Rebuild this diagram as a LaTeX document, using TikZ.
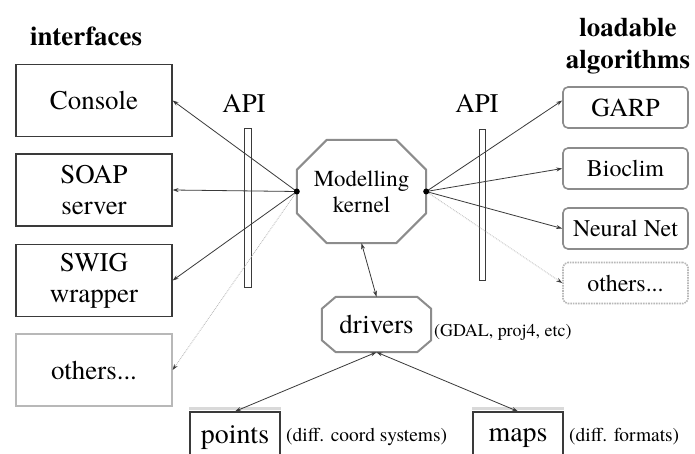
\documentclass[tikz,border=0pt]{standalone}
\usepackage{fontspec}
\setmainfont{texgyretermes}[Extension=.otf, UprightFont=*-regular, BoldFont=*-bold, ItalicFont=*-italic, BoldItalicFont=*-bolditalic]
\usetikzlibrary{arrows.meta,calc}
\definecolor{edge}{HTML}{3A3A3A}
\definecolor{softgray}{HTML}{8C8C8C}
\definecolor{palegray}{HTML}{B8B8B8}
\newcommand{\fsz}[1]{\fontsize{#1}{\dimexpr #1pt*115/100\relax}\selectfont}
\tikzset{
  title/.style={font=\bfseries\fsz{27}, inner sep=0pt},
  ifbox/.style={draw=edge, line width=1.2bp, minimum width=156bp, minimum height=72bp, inner sep=0pt, align=center, font=\fsz{27}},
  ifboxlight/.style={ifbox, draw=palegray},
  algbox/.style={draw=softgray, line width=1.6bp, rounded corners=5bp, minimum width=125bp, minimum height=41bp, inner sep=0pt, font=\fsz{24}},
  algboxlight/.style={algbox, draw=palegray, densely dotted},
  apilabel/.style={font=\fsz{27}, inner sep=0pt},
  apibar/.style={draw=edge, line width=1bp, fill=white, inner sep=0pt},
  octatext/.style={inner sep=0pt, align=center},
  octline/.style={draw=softgray, line width=2bp, line join=round},
  datbox/.style={draw=edge, line width=1.2bp, minimum width=90bp, minimum height=52bp, inner sep=0pt, font=\fsz{28}},
  note/.style={inner sep=0pt, font=\fsz{19.5}},
  conn/.style={draw=edge, line width=0.8bp, -{Stealth[length=6bp,width=4bp]}},
  connlight/.style={draw=palegray, line width=0.8bp, densely dotted, -{Stealth[length=6bp,width=4bp,color=edge]}},
  conntwo/.style={draw=edge, line width=0.8bp, {Stealth[length=6bp,width=4bp]}-{Stealth[length=6bp,width=4bp]}},
  joint/.style={fill=black},
  shadowline/.style={draw=gray!30, line width=3bp}
}
\begin{document}
\begin{tikzpicture}[x=1bp,y=-1bp]
\useasboundingbox (0,0) rectangle (695,454);
\fill[white] (0,0) rectangle (695,454);

% titles
\node[title, anchor=base] (interfaces) at (86,45.5) {interfaces};
\node[title, anchor=base] (loadable) at (628,36.6) {loadable};
\node[title, anchor=base] (algorithms) at (628,68.3) {algorithms};

% interfaces
\node[ifbox] (console) at (94,100.5) {Console};
\node[ifbox] (soap) at (94,190) {SOAP\\server};
\node[ifbox] (swig) at (94,280.5) {SWIG\\wrapper};
\node[ifboxlight] (othersL) at (94,370) {others...};

% algorithms
\node[algbox, font=\fsz{26}] (garp) at (625.5,107.5) {GARP};
\node[algbox] (bioclim) at (625.5,168.5) {Bioclim};
\node[algbox] (neural) at (625.5,228.5) {Neural Net};
\node[algboxlight] (othersR) at (625.5,283) {others...};

% API
\node[apilabel] (apiL) at (244,103) {API};
\node[apilabel] (apiR) at (477,103) {API};
\node[apibar, minimum width=7bp, minimum height=158bp] (barL) at (247.5,208) {};
\node[apibar, minimum width=6bp, minimum height=150bp] (barR) at (482,205) {};

% kernel
\node[octatext, minimum width=129bp, minimum height=103bp, font=\fsz{23}] (kernel) at (361.5,191.5) {Modelling\\kernel};
\draw[octline] ([shift={(30,0)}]kernel.north west) -- ([shift={(-30,0)}]kernel.north east)
  -- ([shift={(0,30)}]kernel.north east) -- ([shift={(0,-30)}]kernel.south east)
  -- ([shift={(-30,0)}]kernel.south east) -- ([shift={(30,0)}]kernel.south west)
  -- ([shift={(0,-30)}]kernel.south west) -- ([shift={(0,30)}]kernel.north west) -- cycle;

% drivers
\node[octatext, minimum width=109bp, minimum height=55bp, font=\fsz{27}] (drivers) at (376.5,324.5) {drivers};
\draw[octline] ([shift={(14,0)}]drivers.north west) -- ([shift={(-14,0)}]drivers.north east)
  -- ([shift={(0,12)}]drivers.north east) -- ([shift={(0,-12)}]drivers.south east)
  -- ([shift={(-14,0)}]drivers.south east) -- ([shift={(14,0)}]drivers.south west)
  -- ([shift={(0,-12)}]drivers.south west) -- ([shift={(0,12)}]drivers.north west) -- cycle;
\node[note, anchor=west, font=\fsz{18}] (gdal) at (434,332) {(GDAL, proj4, etc)};

% data (boxes run off the lower edge)
\begin{scope}
\clip (0,0) rectangle (695,454);
\node[datbox] (points) at (235,438) {points};
\node[datbox] (maps) at (518,438) {maps};
\draw[shadowline] ([shift={(0,-2.5)}]points.north west) -- ([shift={(0,-2.5)}]points.north east);
\draw[shadowline] ([shift={(0,-2.5)}]maps.north west) -- ([shift={(0,-2.5)}]maps.north east);
\end{scope}
\node[note, anchor=west] (coord) at (286,437) {(diff. coord systems)};
\node[note, anchor=west] (formats) at (569,437) {(diff. formats)};

% connectors
\draw[conn] (kernel.west) -- (console.east);
\draw[conn] (kernel.west) -- (soap.east);
\draw[conn] (kernel.west) -- (swig.east);
\draw[connlight] (kernel.west) -- (othersL.east);
\draw[conn] (kernel.east) -- ([shift={(0,-7)}]garp.west);
\draw[conn] (kernel.east) -- (bioclim.west);
\draw[conn] (kernel.east) -- (neural.west);
\draw[connlight] (kernel.east) -- (othersR.west);
\draw[conntwo] (kernel.south) -- (drivers.north);
\draw[conntwo] (drivers.south) -- (points.north);
\draw[conntwo] (drivers.south) -- (maps.north);
\fill[joint] (kernel.west) circle (3bp);
\fill[joint] (kernel.east) circle (3bp);
\end{tikzpicture}
\end{document}
